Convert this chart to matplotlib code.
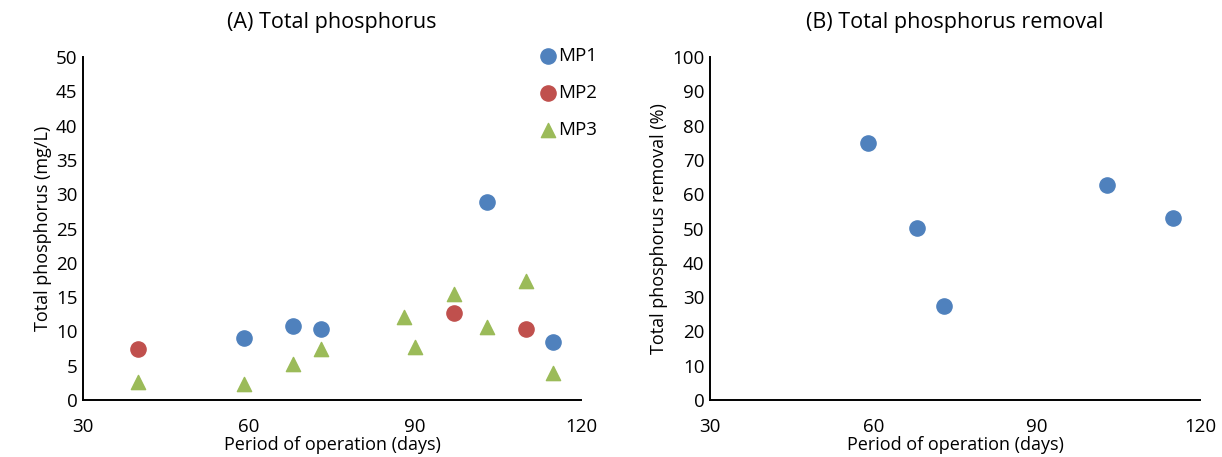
import matplotlib.pyplot as plt

plt.rcParams['font.family'] = ['Open Sans', 'DejaVu Sans']

# ---- data ----
days_mp1 = [59, 68, 73, 103, 115]
tp_mp1 = [9.0, 10.8, 10.3, 28.8, 8.5]

days_mp2 = [40, 97, 110]
tp_mp2 = [7.4, 12.7, 10.3]

days_mp3 = [40, 59, 68, 73, 88, 90, 97, 103, 110, 115]
tp_mp3 = [2.6, 2.3, 5.3, 7.4, 12.1, 7.7, 15.4, 10.7, 17.4, 4.0]

days_removal = [59, 68, 73, 103, 115]
removal = [74.9, 50.0, 27.3, 62.6, 53.0]

blue = '#4F81BD'
red = '#C0504D'
green = '#9BBB59'

fig = plt.figure(figsize=(12.22, 4.57), dpi=100)
ax1 = fig.add_axes([0.068, 0.1247, 0.4075, 0.7506])
ax2 = fig.add_axes([0.581, 0.1247, 0.401, 0.7506])

ax1.scatter(days_mp1, tp_mp1, s=120, marker='o', color=blue, label='MP1', zorder=3)
ax1.scatter(days_mp2, tp_mp2, s=120, marker='o', color=red, label='MP2', zorder=3)
ax1.scatter(days_mp3, tp_mp3, s=105, marker='^', color=green, label='MP3', zorder=3)
ax1.set_ylim(0, 50)
ax1.set_yticks(range(0, 51, 5))
ax1.set_ylabel('Total phosphorus (mg/L)', fontsize=13, labelpad=3)
ax1.set_title('(A) Total phosphorus', fontsize=15.5, pad=21)
ax1.legend(loc='upper left', bbox_to_anchor=(0.4325, 0.917), bbox_transform=fig.transFigure,
           frameon=False, fontsize=13.5, handletextpad=0.0, labelspacing=1.0,
           handlelength=1.1, borderpad=0)

ax2.scatter(days_removal, removal, s=120, marker='o', color=blue, zorder=3)
ax2.set_ylim(0, 100)
ax2.set_yticks(range(0, 101, 10))
ax2.set_ylabel('Total phosphorus removal (%)', fontsize=13, labelpad=3)
ax2.set_title('(B) Total phosphorus removal', fontsize=15.5, pad=21)

for ax in (ax1, ax2):
    ax.set_xlim(30, 120)
    ax.set_xticks([30, 60, 90, 120])
    ax.set_xlabel('Period of operation (days)', fontsize=13, labelpad=0)
    ax.spines['top'].set_visible(False)
    ax.spines['right'].set_visible(False)
    ax.spines['left'].set_linewidth(1.4)
    ax.spines['bottom'].set_linewidth(1.4)
    ax.tick_params(length=0, labelsize=13.5, pad=4)
    ax.tick_params(axis='x', pad=13)

fig.savefig('out.png', dpi=100)
